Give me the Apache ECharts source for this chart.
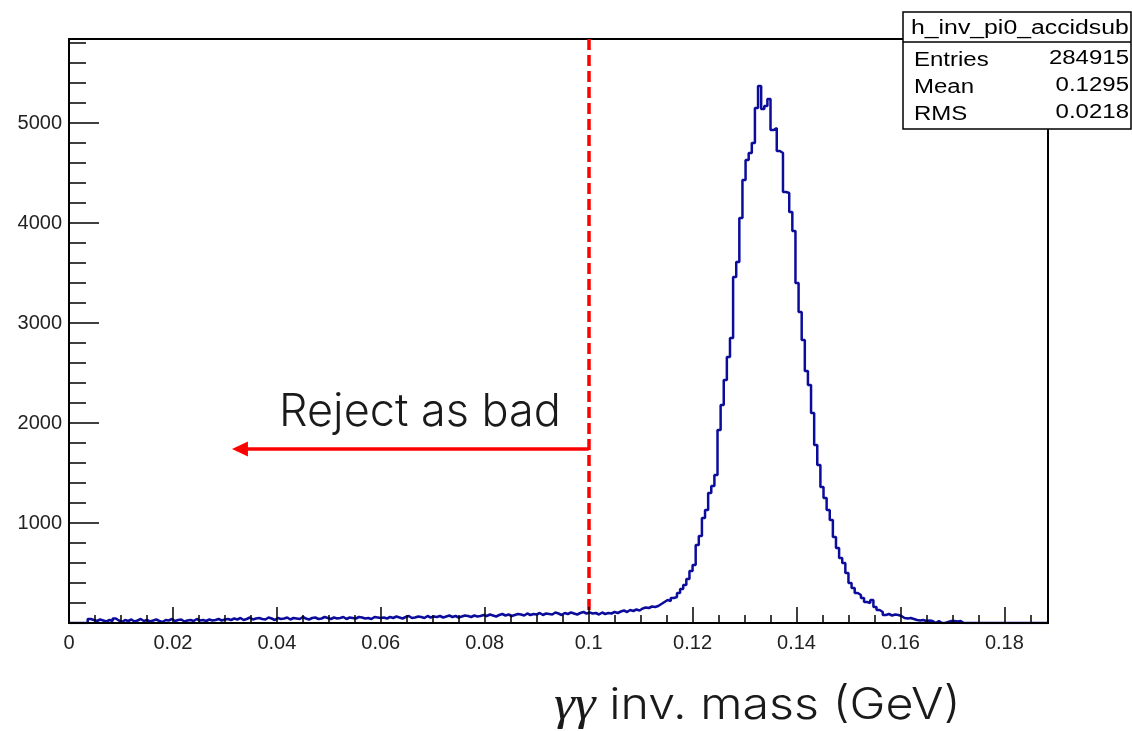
<!DOCTYPE html>
<html>
<head>
<meta charset="utf-8">
<script src="https://cdn.jsdelivr.net/npm/echarts@6/dist/echarts.min.js"></script>
<style>
html,body{margin:0;padding:0;background:#fff;}
#chart{width:1132px;height:731px;}
</style>
</head>
<body>
<div id="chart"></div>
<script>
// ---- Data ----
const BIN_WIDTH = 0.0006;          // GeV per bin
const X_MIN = 0;
const Y_MIN = 0;
const Y_MAX = 5840;
const CUT_X = 0.1;                  // rejection cut
const ARROW_Y = 1740;
const ARROW_END_X = 0.0329;
const DASH_BOTTOM_Y = 100;

// bin contents, bins 0-49  (0 - 0.03 GeV)
const countsA = [0,0,0,0,0,0, 40,30,20,35,25,15,30,20,45,25, 10,30,20,35,15,25,40,20,30,15,
  25,35,20,10,30,25,40,20,30,35, 15,25,30,20,40,25,30,20,35,25, 30,40,25,35];
// bins 50-99 (0.03 - 0.06)
const countsB = [40,30,45,35,50,30,40,55,35,45, 50,40,35,55,45,30,50,40,45,55,
  35,50,45,40,60,45,35,50,55,40, 45,60,50,40,55,45,50,60,40,55, 50,45,60,55,45,50,40,60,55,50];
// bins 100-132 (0.06 - 0.08)
const countsC = [55,45,60,50,65,55,45,60,70,50, 55,65,60,50,70,55,65,60,70,55,
  65,75,60,70,55,65,75,70,60,75, 65,70,80];
// bins 133-166 (0.08 - 0.1)
const countsD = [70,85,75,65,80,90,75,85,70,80, 90,85,75,95,80,90,85,100,80,95,
  90,85,105,95,80,100,90,105,95,85, 100,110,95,105];
// bins 167-198 (0.1 - 0.12)
const countsE = [95,100,85,105,90,100,95,110,100, 115,125,110,130,120,135,125,
  145,155,150,165,160,170, 190,210,230,220,250,260, 300,340,380,440];
// bins 199-236 (peak)
const countsF = [520,580,780,870,1050,1130,1300,1370,1480,1930,2180,2430,2660,2850,3460,3610,
  4050,4430,4630,4700,4800,5150,5370,5140,5170,5240,4930,4950,4720,4700,4310,4300,4110,3920,3400,3110,2830,2520];
// bins 237-285 (falling tail)
const countsG = [2380,2100,1780,1580,1360,1250,1130,1030,860,750,650,600,500,400,350,300,280,250,210,200,230,160,130,110,
  80,90,75,85,80,70, 50,45,50,40, 30,25,30,20,25, 20,0,20, 0,0,10, 20,20,15,20];
// bins 286-313 (empty)
const countsH = [0,0,0,0,0,0,0,0,0,0,0,0,0,0,0,0,0,0,0,0,0,0,0,0,0,0,0,0];

const counts = [].concat(countsA, countsB, countsC, countsD, countsE, countsF, countsG, countsH);
const X_MAX = +(counts.length * BIN_WIDTH).toFixed(4);

const statsTitle = 'h_inv_pi0_accidsub';
const statsNames = ['Entries', 'Mean', 'RMS'];
const statsValues = ['284915', '0.1295', '0.0218'];

// ---- Build step data (bin edges) ----
const histData = counts.map((c, i) => [+(X_MIN + i * BIN_WIDTH).toFixed(5), c]);
histData.push([X_MAX, counts[counts.length - 1]]);

const chart = echarts.init(document.getElementById('chart'), null, {renderer: 'canvas'});

const labelFont = {fontFamily: 'Liberation Sans', fontSize: 20, color: '#222'};
const statFont = 'Liberation Sans';

const option = {
  animation: false,
  backgroundColor: '#fff',
  grid: {
    left: 69, right: 84, top: 39, bottom: 108,
    show: true, borderColor: '#000', borderWidth: 2, backgroundColor: '#fff',
    containLabel: false
  },
  xAxis: [
    { // minor ticks
      type: 'value', position: 'bottom', min: X_MIN, max: X_MAX, interval: 0.005,
      axisLine: {show: false}, splitLine: {show: false},
      axisTick: {show: true, inside: true, length: 8, lineStyle: {color: '#000', width: 1.5}},
      axisLabel: {show: false}, z: 5
    },
    { // major ticks + labels
      type: 'value', position: 'bottom', min: X_MIN, max: X_MAX, interval: 0.02,
      axisLine: {show: true, onZero: false, lineStyle: {color: '#000', width: 2}},
      splitLine: {show: false},
      axisTick: {show: true, inside: true, length: 16, lineStyle: {color: '#000', width: 1.5}},
      axisLabel: Object.assign({show: true, margin: 10, showMaxLabel: false}, labelFont), z: 5
    }
  ],
  yAxis: [
    {
      type: 'value', position: 'left', min: Y_MIN, max: Y_MAX, interval: 200,
      axisLine: {show: false}, splitLine: {show: false},
      axisTick: {show: true, inside: true, length: 17, lineStyle: {color: '#000', width: 1.5}},
      axisLabel: {show: false}, z: 5
    },
    {
      type: 'value', position: 'left', min: Y_MIN, max: Y_MAX, interval: 1000,
      axisLine: {show: true, onZero: false, lineStyle: {color: '#000', width: 2}},
      splitLine: {show: false},
      axisTick: {show: true, inside: true, length: 30, lineStyle: {color: '#000', width: 1.5}},
      axisLabel: Object.assign({show: true, margin: 7, showMaxLabel: false,
        formatter: v => (v === 0 ? '' : String(v))}, labelFont), z: 5
    }
  ],
  series: [{
    type: 'line',
    xAxisIndex: 1, yAxisIndex: 1,
    step: 'end',
    data: histData,
    showSymbol: false, symbol: 'none',
    lineStyle: {color: '#0c0c9c', width: 2.5},
    z: 2,
    clip: true,
    markLine: {
      silent: true,
      animation: false,
      label: {show: false},
      emphasis: {disabled: true},
      lineStyle: {color: '#ff0000', width: 3.5},
      data: [
        [
          {coord: [CUT_X, Y_MAX], symbol: 'none', lineStyle: {color: '#ff0000', width: 3.5, type: [11, 5]}},
          {coord: [CUT_X, DASH_BOTTOM_Y], symbol: 'none'}
        ],
        [
          {coord: [CUT_X, ARROW_Y], symbol: 'none', lineStyle: {color: '#ff0000', width: 3.5, type: 'solid'}},
          {coord: [ARROW_END_X, ARROW_Y], symbol: 'triangle', symbolSize: [15, 16]}
        ]
      ]
    }
  }],
  graphic: [
    {
      type: 'text', x: 420, y: 412,
      style: {text: 'Reject as bad', fontFamily: 'Inter', fontWeight: 300, fontSize: 45,
        fill: '#1a1a1a', align: 'center', verticalAlign: 'middle'}
    },
    {
      type: 'text', x: 554, y: 706, scaleX: 1.1,
      style: {
        text: '{g|γγ}{t| inv. mass (GeV)}',
        verticalAlign: 'middle', align: 'left',
        rich: {
          g: {fontFamily: 'Liberation Serif', fontStyle: 'italic', fontWeight: 'normal', fontSize: 48, fill: '#1a1a1a'},
          t: {fontFamily: 'Inter', fontWeight: 300, fontSize: 44, fill: '#1a1a1a'}
        }
      }
    },
    // stats box
    {
      type: 'rect', shape: {x: 903, y: 12, width: 228, height: 117},
      style: {fill: '#fff', stroke: '#000', lineWidth: 1.5}, z: 10
    },
    {
      type: 'line', shape: {x1: 903, y1: 42, x2: 1131, y2: 42},
      style: {stroke: '#000', lineWidth: 1.5}, z: 11
    },
    {
      type: 'text', x: 911, y: 28, scaleX: 1.24, z: 11,
      style: {text: statsTitle, fontFamily: statFont, fontSize: 20, fill: '#000', align: 'left', verticalAlign: 'middle'}
    },
    {
      type: 'text', x: 914, y: 60, scaleX: 1.2, z: 11,
      style: {text: statsNames[0], fontFamily: statFont, fontSize: 20, fill: '#000', align: 'left', verticalAlign: 'middle'}
    },
    {
      type: 'text', x: 914, y: 87, scaleX: 1.2, z: 11,
      style: {text: statsNames[1], fontFamily: statFont, fontSize: 20, fill: '#000', align: 'left', verticalAlign: 'middle'}
    },
    {
      type: 'text', x: 914, y: 114, scaleX: 1.2, z: 11,
      style: {text: statsNames[2], fontFamily: statFont, fontSize: 20, fill: '#000', align: 'left', verticalAlign: 'middle'}
    },
    {
      type: 'text', x: 1129, y: 58, scaleX: 1.2, z: 11,
      style: {text: statsValues[0], fontFamily: statFont, fontSize: 20, fill: '#000', align: 'right', verticalAlign: 'middle'}
    },
    {
      type: 'text', x: 1129, y: 85, scaleX: 1.2, z: 11,
      style: {text: statsValues[1], fontFamily: statFont, fontSize: 20, fill: '#000', align: 'right', verticalAlign: 'middle'}
    },
    {
      type: 'text', x: 1129, y: 112, scaleX: 1.2, z: 11,
      style: {text: statsValues[2], fontFamily: statFont, fontSize: 20, fill: '#000', align: 'right', verticalAlign: 'middle'}
    }
  ]
};
chart.setOption(option);
</script>
</body>
</html>
